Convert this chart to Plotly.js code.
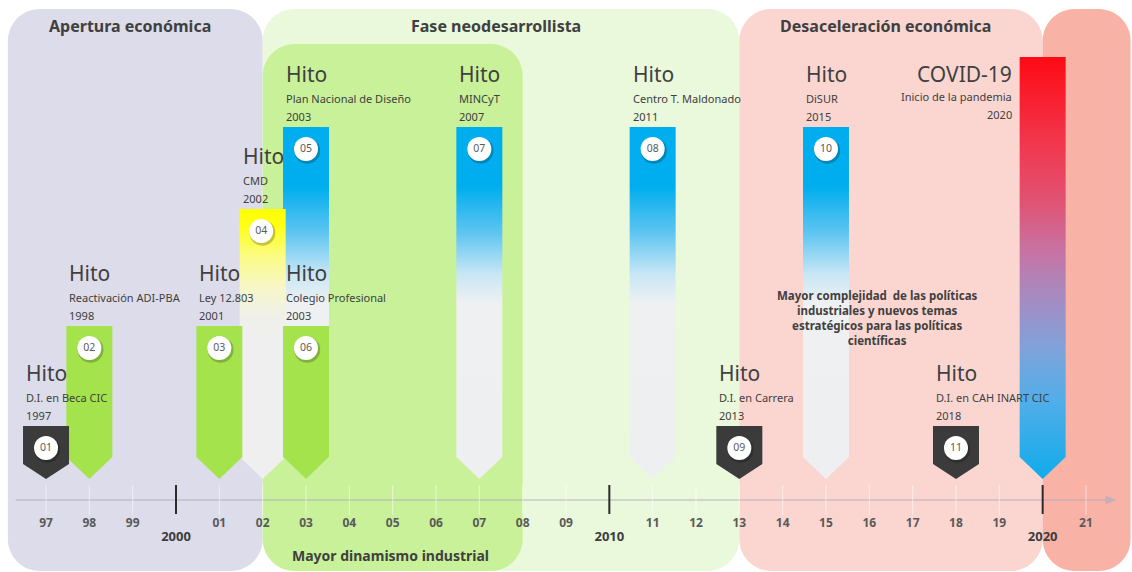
<!DOCTYPE html>
<html>
<head>
<meta charset="utf-8">
<script src="https://cdn.plot.ly/plotly-3.0.1.min.js"></script>
<style>html,body{margin:0;padding:0;background:#fff;}#chart{width:1132px;height:572px;}</style>
</head>
<body>
<div id="chart"></div>
<script>
// ---------------- DATA ----------------
const periodNames = ['Apertura económica', 'Fase neodesarrollista', 'Desaceleración económica', ''];
const periodStart = [1996.12, 2002, 2013, 2020];
const periodEnd   = [2002, 2013, 2020, 2022.03];
const subPeriodName  = 'Mayor dinamismo industrial';
const subPeriodStart = 2002;
const subPeriodEnd   = 2008;

const hitoYear  = [1997, 1998, 2001, 2002, 2003, 2003, 2007, 2011, 2013, 2015, 2018, 2020];
const hitoNum   = ['01','02','03','04','05','06','07','08','09','10','11',''];
const hitoTitle = ['Hito','Hito','Hito','Hito','Hito','Hito','Hito','Hito','Hito','Hito','Hito','COVID-19'];
const hitoDesc  = ['D.I. en Beca CIC','Reactivación ADI-PBA','Ley 12.803','CMD','Plan Nacional de Diseño',
                   'Colegio Profesional','MINCyT','Centro T. Maldonado','D.I. en Carrera','DiSUR',
                   'D.I. en CAH INART CIC','Inicio de la pandemia'];
const hitoDate  = ['1997','1998','2001','2002','2003','2003','2007','2011','2013','2015','2018','2020'];
const hitoKind  = ['dark','green','green','yellow','blue','green','blue','blue','dark','blue','dark','covid'];

const tickYears  = [1997,1998,1999,2000,2001,2002,2003,2004,2005,2006,2007,2008,2009,2010,2011,2012,2013,2014,2015,2016,2017,2018,2019,2020,2021];
const tickLabels = ['97','98','99','','01','02','03','04','05','06','07','08','09','','11','12','13','14','15','16','17','18','19','','21'];
const decadeYears  = [2000, 2010, 2020];
const decadeLabels = ['2000', '2010', '2020'];

const noteText = 'Mayor complejidad  de las políticas<br>industriales y nuevos temas<br>estratégicos para las políticas<br>científicas';
const noteYear = 2016.2;

// ---------------- STYLE ----------------
const X0 = 1995.938, X1 = 2022.062;          // x range (years)
const Y0 = -72, Y1 = 500;                     // y range (px above the time axis)
const PXY = 1132 / (X1 - X0);                 // px per year
const HW = 23 / PXY;                          // half bar width (years)
const FONT = 'Noto Sans, Open Sans, DejaVu Sans, sans-serif';
const TXT = '#404040';

const levelByKind = {dark: 74, green: 174, yellow: 291, blue: 373, covid: 443};
const taperByKind = {dark: 15, green: 22, yellow: 22, blue: 22, covid: 22};
const TIP = 21;

const periodColors = ['#dddcea', '#eaf8dc', '#fbd6d1', '#f8b3a6'];
const subPeriodColor = '#c9f199';
const PTOP = 491, PBOT = -71, SUBTOP = 456;

function topDown(stops) { // convert top-down colour stops into bottom-up colorscale
  return stops.map(s => [1 - s[0], s[1]]).reverse();
}
const gradByKind = {
  blue: topDown([[0,'#00aeef'],[0.17,'#00aeef'],[0.3,'#5ec5f1'],[0.42,'#c9e7f5'],[0.5,'#eef0f2'],[1,'#eeeff1']]),
  yellow: topDown([[0,'#ffff00'],[0.06,'#ffff14'],[0.18,'#fbfb88'],[0.3,'#f6f6cc'],[0.4,'#f0f0ea'],[0.46,'#efefef'],[1,'#efefef']]),
  covid: topDown([[0,'#ff0a14'],[0.22,'#f03a52'],[0.34,'#e05272'],[0.456,'#c872a2'],[0.574,'#a48cc2'],[0.69,'#80a2da'],[0.81,'#52aee8'],[1,'#10abeb']])
};
const solidByKind = {dark: '#3b3b3b', green: '#a5e34c'};

// ---------------- HELPERS ----------------
function roundRect(x0, x1, y0, y1, r) {
  const rx = r / PXY, ry = r, k = 0.4477;
  return `M${x0+rx},${y1} L${x1-rx},${y1} C${x1-rx*k},${y1} ${x1},${y1-ry*k} ${x1},${y1-ry} ` +
         `L${x1},${y0+ry} C${x1},${y0+ry*k} ${x1-rx*k},${y0} ${x1-rx},${y0} ` +
         `L${x0+rx},${y0} C${x0+rx*k},${y0} ${x0},${y0+ry*k} ${x0},${y0+ry} ` +
         `L${x0},${y1-ry} C${x0},${y1-ry*k} ${x0+rx*k},${y1} ${x0+rx},${y1} Z`;
}

// ---------------- SHAPES ----------------
const shapes = [];
periodStart.forEach((s, i) => {
  shapes.push({type: 'path', layer: 'below', xref: 'x', yref: 'y',
    path: roundRect(s, periodEnd[i], PBOT, PTOP, 32), fillcolor: periodColors[i], line: {width: 0}});
});
shapes.push({type: 'path', layer: 'below', xref: 'x', yref: 'y',
  path: roundRect(subPeriodStart, subPeriodEnd, PBOT, SUBTOP, 32), fillcolor: subPeriodColor, line: {width: 0}});

const axisStart = 1996.3, axisEnd = 2021.45;
shapes.push({type: 'line', layer: 'below', x0: axisStart, x1: axisEnd, y0: 0, y1: 0,
  line: {color: 'rgba(170,170,185,0.55)', width: 1.5}});
shapes.push({type: 'path', layer: 'below',
  path: `M${axisEnd},-4.5 L${axisEnd + 11 / PXY},0 L${axisEnd},4.5 Z`,
  fillcolor: 'rgba(175,175,190,0.7)', line: {width: 0}});
tickYears.forEach(y => {
  if (decadeYears.indexOf(y) < 0) {
    shapes.push({type: 'line', layer: 'below', x0: y, x1: y, y0: -15, y1: 15,
      line: {color: 'rgba(255,255,255,0.55)', width: 1}});
  }
});
decadeYears.forEach(y => {
  shapes.push({type: 'line', layer: 'above', x0: y, x1: y, y0: -14, y1: 15,
    line: {color: '#2b2b2b', width: 2}});
});

// ---------------- TRACES ----------------
const traces = [];
const order = hitoYear.map((_, i) => i).sort((a, b) => levelByKind[hitoKind[b]] - levelByKind[hitoKind[a]]);
order.forEach(i => {
  const k = hitoKind[i], c = hitoYear[i], top = levelByKind[k], tp = TIP + taperByKind[k];
  const t = {
    type: 'scatter', mode: 'lines', hoverinfo: 'skip', showlegend: false,
    x: [c - HW, c + HW, c + HW, c, c - HW, c - HW],
    y: [top, top, tp, TIP, tp, top],
    fill: 'toself', line: {width: 0, color: 'rgba(0,0,0,0)'}
  };
  if (gradByKind[k]) {
    t.fillgradient = {type: 'vertical', colorscale: gradByKind[k], start: TIP, stop: top};
  } else {
    t.fillcolor = solidByKind[k];
  }
  traces.push(t);
});

// number circles
const cx = [], cy = [], ct = [];
hitoYear.forEach((y, i) => {
  if (hitoNum[i]) {
    cx.push(hitoKind[i] === 'yellow' ? y - 1.5 / PXY : y);
    cy.push(levelByKind[hitoKind[i]] - 22);
    ct.push(hitoNum[i]);
  }
});
traces.push({type: 'scatter', mode: 'markers', hoverinfo: 'skip', showlegend: false,
  x: cx.map(v => v + 1.2 / PXY), y: cy.map(v => v - 1.8),
  marker: {size: 26, color: 'rgba(0,0,0,0.22)', line: {width: 0}}});
traces.push({type: 'scatter', mode: 'markers+text', hoverinfo: 'skip', showlegend: false,
  x: cx, y: cy, text: ct, textposition: 'middle center',
  textfont: {family: FONT, size: 10.5, color: '#5a5a5a'},
  marker: {size: 24, color: '#ffffff', line: {width: 0}}});

// axis labels
traces.push({type: 'scatter', mode: 'text', hoverinfo: 'skip', showlegend: false,
  x: tickYears, y: tickYears.map(() => -24), text: tickLabels,
  textfont: {family: FONT, size: 12, color: '#5a5a5a', weight: 'bold'}});
traces.push({type: 'scatter', mode: 'text', hoverinfo: 'skip', showlegend: false,
  x: decadeYears, y: decadeYears.map(() => -38), text: decadeLabels,
  textfont: {family: FONT, size: 13, color: '#3c3c3c', weight: 'bold'}});

// ---------------- ANNOTATIONS ----------------
const annotations = [];
periodNames.forEach((n, i) => {
  if (!n) return;
  annotations.push({x: (periodStart[i] + periodEnd[i]) / 2, y: 474, xshift: -5, text: '<b>' + n + '</b>',
    showarrow: false, xanchor: 'center', yanchor: 'middle', font: {family: FONT, size: 16, color: TXT}});
});
annotations.push({x: (subPeriodStart + subPeriodEnd) / 2, y: -55, xshift: -2, text: '<b>' + subPeriodName + '</b>',
  showarrow: false, xanchor: 'center', yanchor: 'middle', font: {family: FONT, size: 14, color: TXT}});

hitoYear.forEach((y, i) => {
  const k = hitoKind[i], top = levelByKind[k];
  const right = k === 'covid';
  const xa = right ? 'right' : 'left';
  const xs = right ? -6 : 1;
  const shifts = right ? [-17, -39, -57] : [53, 29, 11];
  annotations.push({x: y - HW, y: top, xshift: xs, yshift: shifts[0], text: hitoTitle[i], showarrow: false,
    xanchor: xa, yanchor: 'middle', font: {family: FONT, size: 21, color: TXT}});
  annotations.push({x: y - HW, y: top, xshift: xs, yshift: shifts[1], text: hitoDesc[i], showarrow: false,
    xanchor: xa, yanchor: 'middle', font: {family: FONT, size: 11, color: TXT}});
  annotations.push({x: y - HW, y: top, xshift: xs, yshift: shifts[2], text: hitoDate[i], showarrow: false,
    xanchor: xa, yanchor: 'middle', font: {family: FONT, size: 11, color: TXT}});
});

annotations.push({x: noteYear, y: 182, text: '<b>' + noteText + '</b>', showarrow: false,
  xanchor: 'center', yanchor: 'middle', align: 'center', font: {family: FONT, size: 11.5, color: TXT}});

const layout = {
  width: 1132, height: 572, margin: {l: 0, r: 0, t: 0, b: 0},
  paper_bgcolor: '#ffffff', plot_bgcolor: '#ffffff',
  xaxis: {range: [X0, X1], visible: false, fixedrange: true},
  yaxis: {range: [Y0, Y1], visible: false, fixedrange: true},
  shapes: shapes, annotations: annotations, showlegend: false
};
Plotly.newPlot('chart', traces, layout, {staticPlot: true, displayModeBar: false});
</script>
</body>
</html>
